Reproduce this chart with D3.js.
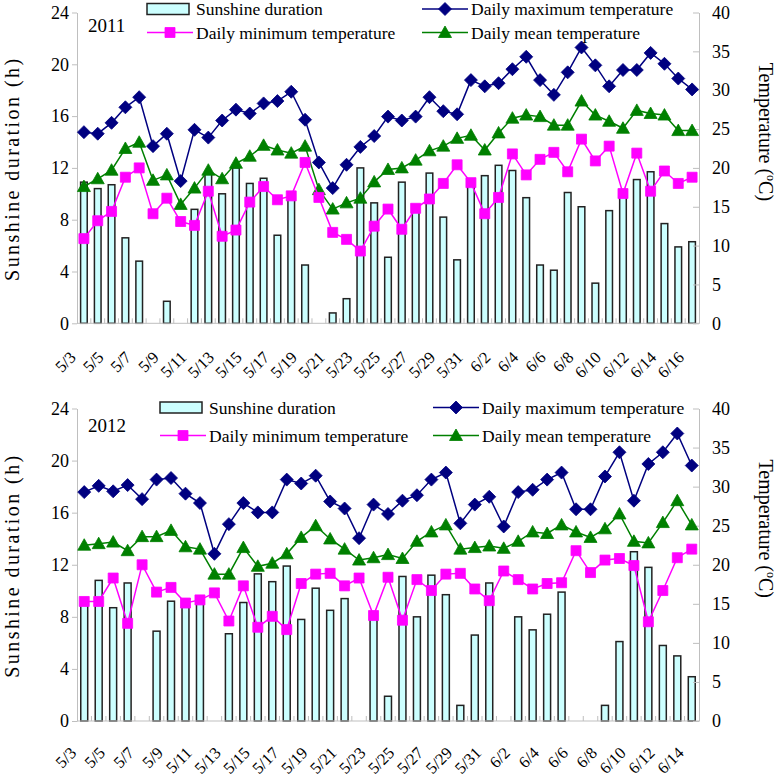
<!DOCTYPE html>
<html>
<head>
<meta charset="utf-8">
<script src="https://cdn.jsdelivr.net/npm/d3@7"></script>
<style>
body { margin: 0; background: #fff; }
svg { display: block; }
</style>
</head>
<body>
<svg width="780" height="780"></svg>
<script>
'use strict';

/* global d3 */

// ---- data ----
var dates2011 = ["5/3","5/4","5/5","5/6","5/7","5/8","5/9","5/10","5/11","5/12","5/13","5/14","5/15","5/16","5/17","5/18","5/19","5/20","5/21","5/22","5/23","5/24","5/25","5/26","5/27","5/28","5/29","5/30","5/31","6/1","6/2","6/3","6/4","6/5","6/6","6/7","6/8","6/9","6/10","6/11","6/12","6/13","6/14","6/15","6/16"];
var sun2011 = [10.9, 10.4, 10.7, 6.6, 4.8, 0, 1.7, 0, 8.8, 11.6, 10.0, 12.0, 10.8, 11.2, 6.8, 9.8, 4.5, 0, 0.8, 1.9, 12.0, 9.3, 5.1, 10.9, 8.7, 11.6, 8.2, 4.9, 10.9, 11.4, 12.2, 11.8, 9.7, 4.5, 4.1, 10.1, 9.0, 3.1, 8.7, 9.8, 11.1, 11.7, 7.7, 5.9, 6.3];
var tmax2011 = [24.6, 24.4, 25.8, 27.8, 29.1, 22.8, 24.4, 18.3, 24.9, 23.9, 26.1, 27.5, 27.0, 28.3, 28.6, 29.8, 26.2, 20.7, 17.4, 20.4, 22.7, 24.1, 26.6, 26.1, 26.6, 29.1, 27.3, 26.9, 31.3, 30.5, 30.9, 32.7, 34.3, 31.3, 29.4, 32.3, 35.5, 33.2, 30.5, 32.6, 32.6, 34.8, 33.4, 31.5, 30.1];
var tmin2011 = [10.9, 13.2, 14.4, 18.8, 20.0, 14.1, 16.1, 13.1, 12.6, 17.0, 11.2, 12.0, 15.6, 17.6, 15.9, 16.4, 20.7, 16.2, 11.7, 10.8, 9.3, 12.5, 14.7, 12.1, 14.8, 16.0, 18.0, 20.4, 18.1, 14.1, 16.2, 21.8, 19.1, 21.1, 22.0, 19.5, 23.7, 20.9, 22.8, 16.7, 21.9, 17.0, 19.6, 18.0, 18.8];
var tmean2011 = [17.6, 18.6, 19.7, 22.5, 23.3, 18.4, 19.1, 15.3, 17.4, 19.7, 18.6, 20.6, 21.5, 22.9, 22.3, 21.9, 22.8, 17.2, 14.7, 15.5, 16.1, 18.2, 19.8, 20.0, 21.0, 22.2, 22.8, 23.8, 24.2, 22.3, 24.5, 26.4, 26.8, 26.6, 25.5, 25.5, 28.6, 26.8, 26.0, 25.1, 27.4, 27.0, 26.8, 24.8, 24.8];

var dates2012 = ["5/3","5/4","5/5","5/6","5/7","5/8","5/9","5/10","5/11","5/12","5/13","5/14","5/15","5/16","5/17","5/18","5/19","5/20","5/21","5/22","5/23","5/24","5/25","5/26","5/27","5/28","5/29","5/30","5/31","6/1","6/2","6/3","6/4","6/5","6/6","6/7","6/8","6/9","6/10","6/11","6/12","6/13","6/14"];
var sun2012 = [9.1, 10.8, 8.7, 10.6, 0, 6.9, 9.2, 9.2, 9.3, 0, 6.7, 9.1, 11.3, 10.7, 11.9, 7.8, 10.2, 8.5, 9.4, 0, 8.1, 1.9, 11.1, 8.0, 11.2, 9.7, 1.2, 6.6, 10.6, 0, 8.0, 7.0, 8.2, 9.9, 0, 0, 1.2, 6.1, 13.0, 11.8, 5.8, 5.0, 3.4];
var tmax2012 = [29.3, 30.1, 29.4, 30.2, 28.4, 30.9, 31.1, 29.1, 27.9, 21.4, 25.2, 27.9, 26.7, 26.7, 30.9, 30.4, 31.4, 28.1, 27.2, 23.4, 27.7, 26.5, 28.2, 28.9, 30.9, 31.8, 25.3, 27.7, 28.7, 24.9, 29.3, 29.6, 30.9, 31.8, 27.1, 27.1, 31.3, 34.4, 28.2, 32.9, 34.4, 36.8, 32.7];
var tmin2012 = [15.3, 15.3, 18.3, 12.5, 20.0, 16.5, 17.1, 15.1, 15.5, 16.4, 12.8, 17.3, 12.0, 13.4, 11.7, 17.6, 18.8, 18.9, 17.3, 18.3, 13.5, 18.4, 12.9, 18.1, 16.7, 18.8, 18.9, 16.9, 15.4, 19.2, 18.1, 16.9, 17.6, 17.7, 21.8, 19.0, 20.6, 20.8, 19.9, 12.7, 16.7, 20.9, 22.0];
var tmean2012 = [22.5, 22.7, 22.9, 21.8, 23.6, 23.6, 24.4, 22.3, 22.0, 18.8, 18.8, 22.2, 19.8, 20.2, 21.4, 23.5, 25.0, 23.3, 22.0, 20.6, 20.9, 21.3, 20.8, 23.0, 24.2, 25.1, 22.0, 22.2, 22.4, 22.1, 23.0, 24.2, 24.0, 25.1, 24.2, 23.5, 24.6, 26.5, 23.0, 22.8, 25.4, 28.2, 25.1];

var sunTicks = [0, 4, 8, 12, 16, 20, 24];
var tempTicks = [0, 5, 10, 15, 20, 25, 30, 35, 40];

// ---- look ----
var FONT = '"Liberation Serif", "Times New Roman", serif';
var GRAY = "#bfbfbf";
var X0 = 77, X1 = 699;

var SERIES = {
    sun:  { name: "Sunshine duration", fill: "#ccffff", stroke: "#222" },
    tmax: { name: "Daily maximum temperature", color: "#000080", mark: "diamond" },
    tmin: { name: "Daily minimum temperature", color: "#ff00ff", mark: "square" },
    tmean: { name: "Daily mean temperature", color: "#008000", mark: "triangle" }
};

var svg = d3.select("svg").attr("font-family", FONT);

function marker(sel, kind, color) {
    var path;
    if (kind === "diamond") {
        path = "M0,-6.5L6.5,0L0,6.5L-6.5,0Z";
    } else if (kind === "square") {
        path = "M-5,-5H5V5H-5Z";
    } else {
        path = "M0,-6.5L6.5,5L-6.5,5Z";
    }
    sel.append("path")
        .attr("d", path)
        .attr("fill", color)
        .attr("stroke", color)
        .attr("stroke-width", 0.8);
}

function styleAxis(g) {
    g.attr("font-family", FONT).attr("font-size", 18);
    g.select(".domain").attr("stroke", GRAY);
    g.selectAll(".tick line").attr("stroke", GRAY);
    g.selectAll(".tick text").attr("fill", "#000");
}

function drawPanel(p) {
    var g = svg.append("g");
    var x = d3.scaleBand().domain(p.dates).range([X0, X1]);
    var yS = d3.scaleLinear().domain([0, 24]).range([p.y0, p.y1]);
    var yT = d3.scaleLinear().domain([0, 40]).range([p.y0, p.y1]);
    var bw = x.step() * 0.48;
    var cx = function(d) { return x(d) + x.bandwidth() / 2; };

    // sunshine bars
    var bars = p.dates.map(function(d, i) { return { d: d, v: p.sun[i] }; })
        .filter(function(o) { return o.v > 0; });
    g.append("g").selectAll("rect")
        .data(bars)
        .enter()
        .append("rect")
        .attr("x", function(o) { return cx(o.d) - bw / 2; })
        .attr("y", function(o) { return yS(o.v); })
        .attr("width", bw)
        .attr("height", function(o) { return yS(0) - yS(o.v); })
        .attr("fill", SERIES.sun.fill)
        .attr("stroke", SERIES.sun.stroke)
        .attr("stroke-width", 1.5);

    // x axis: baseline, inside ticks, rotated labels
    g.append("line")
        .attr("x1", X0).attr("x2", X1)
        .attr("y1", p.y0).attr("y2", p.y0)
        .attr("stroke", GRAY);
    g.append("g").selectAll("line")
        .data(p.dates.slice(1))
        .enter()
        .append("line")
        .attr("x1", function(d) { return x(d); })
        .attr("x2", function(d) { return x(d); })
        .attr("y1", p.y0).attr("y2", p.y0 - 5)
        .attr("stroke", GRAY);
    g.append("g").selectAll("text")
        .data(p.dates.filter(function(d, i) { return i % 2 === 0; }))
        .enter()
        .append("text")
        .attr("transform", function(d) {
            return "translate(" + (cx(d) - 7) + "," + (p.y0 + p.labelDy) + ") rotate(-45)";
        })
        .attr("text-anchor", "end")
        .attr("font-size", 16.5)
        .text(function(d) { return d; });

    // y axes
    var left = g.append("g")
        .attr("transform", "translate(" + X0 + ",0)")
        .call(d3.axisLeft(yS).tickValues(sunTicks).tickSizeInner(5).tickSizeOuter(0).tickPadding(3));
    styleAxis(left);
    var right = g.append("g")
        .attr("transform", "translate(" + X1 + ",0)")
        .call(d3.axisRight(yT).tickValues(tempTicks).tickSizeInner(-6).tickSizeOuter(0).tickPadding(13));
    styleAxis(right);

    // temperature lines
    ["tmax", "tmean", "tmin"].forEach(function(key) {
        var s = SERIES[key];
        var vals = p[key];
        var line = d3.line()
            .x(function(d, i) { return cx(p.dates[i]); })
            .y(function(d) { return yT(d); });
        g.append("path")
            .datum(vals)
            .attr("d", line)
            .attr("fill", "none")
            .attr("stroke", s.color)
            .attr("stroke-width", 1.5);
        g.append("g").selectAll("g")
            .data(vals)
            .enter()
            .append("g")
            .attr("transform", function(d, i) {
                return "translate(" + cx(p.dates[i]) + "," + yT(d) + ")";
            })
            .each(function() { marker(d3.select(this), s.mark, s.color); });
    });

    // year label
    g.append("text")
        .attr("x", 88).attr("y", p.y1 + p.yearDy)
        .attr("font-size", 19)
        .text(p.year);

    // legend
    var lg = g.append("g").attr("font-size", 17.5);
    var L = p.legend;
    lg.append("rect")
        .attr("x", L.lx).attr("y", L.row1 - 5.5)
        .attr("width", 42).attr("height", 11)
        .attr("fill", SERIES.sun.fill)
        .attr("stroke", SERIES.sun.stroke)
        .attr("stroke-width", 1.5);
    var items = [
        { s: SERIES.sun, x: L.lx, y: L.row1, bar: true },
        { s: SERIES.tmin, x: L.lx, y: L.row2 },
        { s: SERIES.tmax, x: L.rx, y: L.row1 },
        { s: SERIES.tmean, x: L.rx, y: L.row2 }
    ];
    items.forEach(function(it) {
        if (!it.bar) {
            lg.append("line")
                .attr("x1", it.x).attr("x2", it.x + 46)
                .attr("y1", it.y).attr("y2", it.y)
                .attr("stroke", it.s.color)
                .attr("stroke-width", 1.5);
            var m = lg.append("g").attr("transform", "translate(" + (it.x + 23) + "," + it.y + ")");
            marker(m, it.s.mark, it.s.color);
        }
        lg.append("text")
            .attr("x", it.x + 49)
            .attr("y", it.y + 6)
            .text(it.s.name);
    });

    // axis titles
    var mid = (p.y0 + p.y1) / 2;
    g.append("text")
        .attr("transform", "translate(19," + (mid + 2) + ") rotate(-90)")
        .attr("text-anchor", "middle")
        .attr("font-size", 20)
        .attr("textLength", 222)
        .attr("lengthAdjust", "spacing")
        .text("Sunshine duration (h)");
    var rt = g.append("text")
        .attr("transform", "translate(759," + (mid - 36) + ") rotate(90)")
        .attr("text-anchor", "middle")
        .attr("font-size", 20);
    rt.append("tspan").text("Temperature (");
    rt.append("tspan").attr("dy", -8).attr("font-size", 12).text("o");
    rt.append("tspan").attr("dy", 8).text("C)");
}

drawPanel({
    dates: dates2011, sun: sun2011, tmax: tmax2011, tmin: tmin2011, tmean: tmean2011,
    year: "2011", y0: 323.3, y1: 12.5, yearDy: 19, labelDy: 35,
    legend: { lx: 147, rx: 422, row1: 9, row2: 32.5 }
});

drawPanel({
    dates: dates2012, sun: sun2012, tmax: tmax2012, tmin: tmin2012, tmean: tmean2012,
    year: "2012", y0: 721, y1: 408.5, yearDy: 23, labelDy: 33,
    legend: { lx: 160, rx: 433, row1: 407.5, row2: 435.5 }
});
</script>
</body>
</html>
